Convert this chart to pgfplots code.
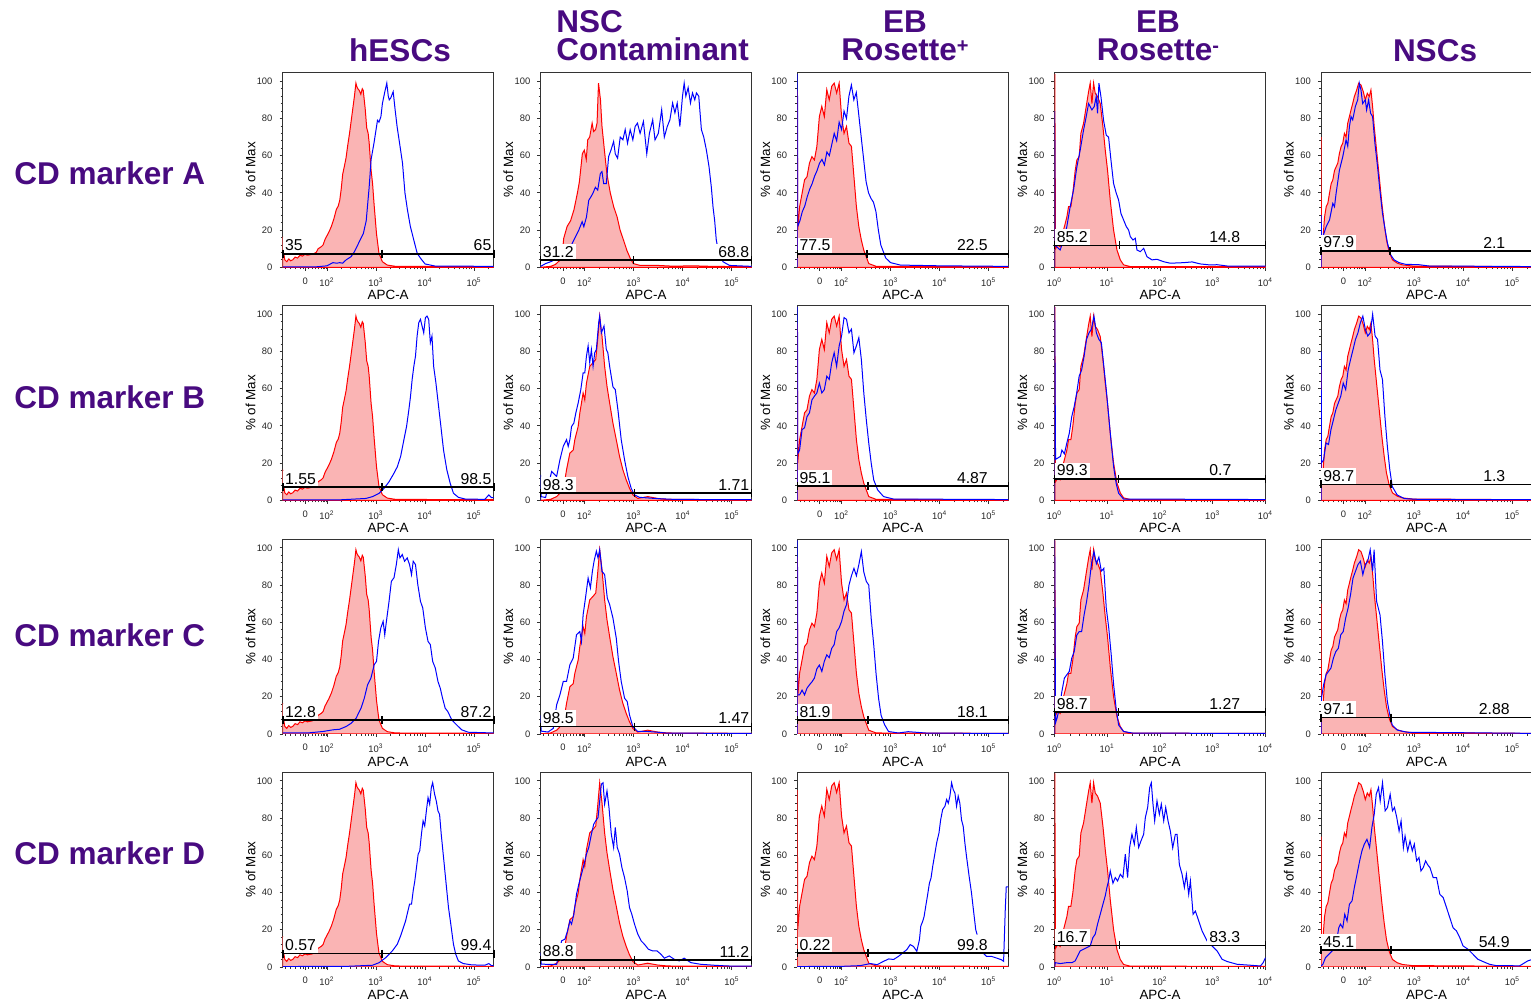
\documentclass[border=0pt]{standalone}
\usepackage{fontspec}
\setmainfont{Liberation Sans}
\usepackage{pgfplots}
\pgfplotsset{compat=1.18}
\usepackage{pgfplotstable}

\definecolor{ttl}{RGB}{72,10,128}
\definecolor{pinkf}{RGB}{250,180,180}

% isotype controls (red, filled), one per column
\pgfplotstableread{
x y
1.097 0
1.097 16.5
1.115 8
1.14 4
1.18 3
1.22 4.5
1.26 3.5
1.30 4
1.35 5.5
1.40 5
1.45 6.5
1.50 6
1.55 7
1.60 6.5
1.70 7
1.78 8
1.82 10
1.88 11
1.92 12
1.96 15
2.00 17
2.04 19
2.09 22
2.14 26
2.19 31
2.23 33
2.26 36
2.29 42
2.32 50
2.36 55
2.39 59
2.42 65
2.46 72
2.50 80
2.53 86
2.56 92
2.59 99
2.61 97
2.63 96
2.66 95
2.69 93
2.72 96
2.74 95
2.78 85
2.81 75
2.84 72
2.86 67
2.90 52
2.93 45
2.96 34
3.01 18
3.06 7.5
3.13 3
3.23 1.2
3.40 0.5
5.40 0.3
}\rA
\pgfplotstableread{
x y
1.097 0
1.30 0.5
1.40 1.5
1.50 4
1.54 7
1.57 15.5
1.64 22
1.71 25
1.78 31
1.85 40
1.89 46
1.95 61
1.99 63
2.03 58
2.06 68.5
2.10 70
2.15 77.5
2.18 73
2.22 74
2.25 77.5
2.28 99
2.32 90
2.35 76
2.40 63
2.45 50.5
2.52 40
2.59 32.5
2.66 27
2.72 20
2.79 14.6
2.86 9
2.93 4.7
2.99 2
3.13 1
3.5 1
3.8 0.6
4.2 0.8
4.6 0.5
5.40 0.3
}\rBa
\pgfplotstableread{
x y
1.097 0
1.30 0.5
1.426 2
1.527 4.7
1.595 11
1.628 16.4
1.696 25.4
1.764 27
1.797 32.6
1.865 39.7
1.899 47
1.966 57.7
2.000 54
2.034 63
2.101 72
2.169 74
2.223 75.7
2.257 84.7
2.304 99
2.351 88.3
2.405 72
2.453 61.3
2.507 52.3
2.574 41.5
2.642 32.6
2.709 23.6
2.777 16.4
2.845 11
2.912 6.5
2.980 2.9
3.081 1
3.284 2
3.486 1
3.689 0.5
5.40 0.3
}\rB
\pgfplotstableread{
x y
1.097 0
1.097 95
1.105 20
1.144 32.6
1.194 39.7
1.245 47
1.295 48.7
1.345 56
1.395 59.5
1.446 57.7
1.496 65
1.547 81
1.596 86.5
1.648 81
1.698 95.5
1.748 90
1.799 97.3
1.849 99
1.899 93.7
1.950 99
2.000 81
2.050 72
2.100 75.7
2.151 66.7
2.201 65
2.252 48.7
2.302 32.6
2.352 21.8
2.403 14.6
2.453 9.2
2.554 2
2.705 0.5
5.40 0.3
}\rC
\pgfplotstableread{
x y
0.005 0
0.005 104
0.02 10
0.06 12
0.108 11
0.171 20
0.234 27
0.266 32.6
0.310 32.6
0.348 40
0.392 52
0.424 57.7
0.468 59.5
0.500 72
0.551 77.4
0.601 86.4
0.646 94.4
0.677 99
0.709 88
0.741 99
0.772 93.5
0.816 91.8
0.867 88
0.918 75.6
0.962 63
1.006 52
1.057 36
1.120 20
1.184 9.3
1.247 4
1.310 1.3
1.437 0.4
4.0 0.3
}\rD
\pgfplotstableread{
x y
1.097 0
1.097 70
1.105 14.7
1.135 14.7
1.169 27
1.203 32.6
1.236 34.4
1.270 39.8
1.304 45
1.338 47
1.372 52
1.405 54
1.439 56
1.473 61.3
1.507 64.9
1.541 66.7
1.574 72
1.608 70
1.642 77.4
1.676 81
1.709 84.6
1.743 88
1.777 91.8
1.824 95.3
1.865 99
1.912 98
1.959 94.4
2.000 90
2.041 93.5
2.081 91.8
2.115 95.3
2.149 86.4
2.182 75.6
2.230 63
2.284 48.7
2.338 34.4
2.385 23.7
2.432 14.7
2.486 8.4
2.554 4
2.655 2.2
2.757 1.3
2.959 0.7
5.40 0.3
}\rE

% stained samples (blue), column A = hESCs ... E = NSCs, rows a-d = marker A-D
\pgfplotstableread{
x y
1.10 0.2
1.80 0.3
2.00 0.8
2.12 2.5
2.20 2.2
2.26 2.5
2.32 2.2
2.39 4
2.49 5.7
2.56 8.4
2.66 13.8
2.74 18
2.80 25
2.86 43
2.90 58
2.96 67
3.03 79
3.06 78
3.10 81
3.13 88
3.18 94.4
3.22 99
3.25 92
3.27 90
3.30 91
3.35 94.4
3.39 84.6
3.43 75.6
3.49 65
3.54 56
3.59 40
3.64 31
3.70 22
3.77 14.7
3.84 7.5
3.91 4.8
4.00 1.8
4.20 0.7
5.40 0.5
}\bAa
\pgfplotstableread{
x y
1.10 0.2
2.30 0.3
2.795 1
2.929 2
3.064 3.8
3.165 6.5
3.266 10
3.367 14.6
3.434 18
3.502 23.6
3.569 32.6
3.623 39.7
3.670 48.7
3.704 56
3.737 65
3.771 72
3.805 77.5
3.838 88.3
3.872 95.5
3.906 97.3
3.939 93.7
3.973 90
4.007 98.2
4.040 99
4.074 97.3
4.108 84.7
4.141 88.3
4.175 72
4.222 63
4.276 50.5
4.323 39.7
4.377 27
4.444 16.4
4.512 9.2
4.579 3.8
4.680 1.6
4.815 0.7
5.219 0.5
5.300 2.9
5.354 1.5
5.40 1.5
}\bAb
\pgfplotstableread{
x y
1.10 0.5
1.60 0.5
1.919 1.3
2.121 2.2
2.256 2.5
2.391 4
2.492 5.7
2.593 8.4
2.694 13.8
2.761 19.2
2.828 26.4
2.896 30
2.963 37.2
3.010 39
3.051 49.7
3.098 57
3.145 60.5
3.178 53.3
3.212 60.5
3.266 71.3
3.313 82
3.367 84
3.414 91
3.455 99
3.488 94.6
3.535 96.4
3.582 92.8
3.636 94.6
3.684 91
3.724 85.6
3.758 92.8
3.805 91
3.852 80.3
3.906 71.3
3.953 67.7
4.007 57
4.061 49.7
4.108 48
4.155 39
4.209 35.4
4.263 28.2
4.310 24.6
4.357 19.2
4.411 13.8
4.465 12
4.545 7.5
4.646 4.8
4.747 2.2
4.882 0.9
5.40 0.5
}\bAc
\pgfplotstableread{
x y
1.10 0.2
2.40 0.3
2.929 0.9
3.064 2.3
3.199 5
3.333 8.6
3.434 12.2
3.502 16.7
3.556 21
3.603 24.7
3.650 30
3.684 33.7
3.724 33.7
3.758 40.9
3.791 46.2
3.825 53.4
3.859 60.6
3.892 62.4
3.926 71.3
3.960 78.5
3.993 75.8
4.027 83.9
4.061 91
4.094 87.5
4.128 96.4
4.155 99
4.195 92.8
4.229 89.2
4.263 83.9
4.296 82
4.330 71.3
4.377 58.8
4.424 46.2
4.478 31.9
4.525 23
4.579 12.2
4.626 6.8
4.680 3.2
4.781 1.8
4.949 1.1
5.219 0.9
5.300 1.8
5.354 0.7
5.40 0.7
}\bAd
\pgfplotstableread{
x y
1.10 0.5
1.20 2
1.304 3
1.439 4.7
1.541 3.8
1.642 7.4
1.743 12.8
1.811 16.4
1.878 20
1.946 24.5
1.980 21.8
2.034 27
2.081 36
2.128 38
2.169 40
2.216 43
2.264 41.5
2.318 50.5
2.351 51.4
2.385 45
2.439 45
2.486 59.5
2.534 63
2.588 67.6
2.622 61
2.669 58.6
2.723 70
2.777 68.5
2.824 74
2.872 66.7
2.926 74
2.980 68.5
3.027 75.7
3.074 77.5
3.128 72
3.196 78.4
3.264 61
3.318 72
3.385 79.3
3.432 68.5
3.500 72
3.568 84.7
3.622 70
3.682 75.7
3.736 79.3
3.791 88.3
3.838 83
3.885 88.3
3.939 75.7
3.993 92
4.027 99
4.061 92
4.108 96.6
4.155 88.3
4.196 93.7
4.243 90
4.277 93.7
4.324 92
4.378 74
4.426 70
4.480 63
4.534 54
4.581 43
4.615 32.5
4.649 25
4.682 14.6
4.716 10
4.818 3
4.953 1
5.40 0.5
}\bBa
\pgfplotstableread{
x y
1.097 0
1.097 13.7
1.11 2
1.20 1.5
1.324 15.5
1.36 14.5
1.426 12.8
1.493 21.8
1.561 29
1.628 32.6
1.662 29
1.696 32.6
1.730 39.7
1.777 41.5
1.818 47
1.865 52.3
1.919 59.5
1.966 68.5
2.000 68.5
2.034 77.5
2.068 83
2.101 74
2.135 81
2.169 72
2.203 79.3
2.236 81
2.284 95.5
2.304 99
2.338 90
2.392 93.7
2.439 81
2.470 79.3
2.507 72
2.574 61
2.622 59.5
2.676 48.6
2.743 32.6
2.811 21.8
2.878 12.8
2.946 6.5
3.014 2.9
3.115 1.6
3.486 0.9
3.824 0.5
5.40 0.3
}\bBb
\pgfplotstableread{
x y
1.097 0
1.097 10
1.11 1.5
1.25 1
1.358 3
1.426 15.6
1.493 21
1.561 28.2
1.628 28.2
1.696 37.2
1.764 40.8
1.831 53.3
1.899 55
1.932 49.7
1.966 64
2.014 73
2.068 83.8
2.115 78.5
2.155 87.4
2.189 92.8
2.236 98.2
2.270 94.6
2.304 99
2.351 87.4
2.405 85.6
2.459 73
2.507 69.5
2.574 62.3
2.642 51.5
2.689 39
2.743 28.2
2.811 19.2
2.865 17.4
2.912 10.2
2.980 3.9
3.081 1.3
3.284 1.3
3.486 0.9
3.689 0.4
5.40 0.3
}\bBc
\pgfplotstableread{
x y
1.097 0
1.097 7.7
1.11 1.5
1.223 1.4
1.426 1.4
1.527 14
1.595 14.9
1.649 19.4
1.696 24.7
1.730 23
1.777 28.3
1.831 39
1.878 44.4
1.932 49.8
1.986 55.2
2.034 60.6
2.081 64.2
2.135 71.3
2.182 76.7
2.223 78.5
2.270 80.3
2.304 89.2
2.338 98.2
2.372 99
2.405 87.5
2.453 94.6
2.493 85.7
2.541 71.3
2.588 64.2
2.622 75
2.662 64.2
2.709 60.6
2.757 53.4
2.811 48
2.865 40.9
2.912 31.9
2.959 28.3
3.014 23
3.081 17.6
3.149 14
3.216 12.2
3.297 9.5
3.385 8.6
3.473 8.6
3.554 6.8
3.622 4.7
3.723 5.9
3.824 4.1
3.926 3.2
4.027 4.7
4.162 2.3
4.365 1.4
4.635 0.9
4.905 0.5
5.40 0.4
}\bBd
\pgfplotstableread{
x y
1.100 0
1.100 104
1.106 22
1.15 25
1.20 30
1.25 33
1.30 38
1.35 42
1.40 45
1.45 49
1.50 52
1.55 56
1.60 58
1.65 55
1.70 62
1.75 60
1.80 66
1.85 72
1.90 68
1.95 78
2.00 74
2.05 84
2.10 80
2.15 92
2.20 98
2.25 90
2.30 94
2.35 82
2.40 70
2.45 58
2.50 46
2.55 40
2.60 37
2.65 35
2.70 30
2.75 20
2.80 12
2.90 5
3.00 2.5
3.20 1.2
4.00 0.8
5.40 0.5
}\bCa
\pgfplotstableread{
x y
1.100 0
1.100 104
1.105 25
1.144 27
1.194 38
1.245 39
1.295 45
1.345 47
1.396 54
1.446 56
1.496 57.7
1.547 63
1.597 57.7
1.648 59.5
1.698 66.7
1.748 65
1.799 74
1.849 79.3
1.899 72
1.950 83
2.000 88.3
2.050 98.2
2.100 97.3
2.151 90
2.201 92
2.252 79.3
2.302 83
2.352 87.4
2.403 75.7
2.453 57.7
2.504 43.3
2.554 30.8
2.604 20
2.655 11
2.735 5.6
2.856 2
3.057 0.7
5.40 0.4
}\bCb
\pgfplotstableread{
x y
1.100 0
1.100 104
1.105 21
1.144 21
1.194 23.5
1.245 21
1.295 24.6
1.345 26.4
1.396 28
1.446 30
1.496 35
1.547 37
1.597 33.6
1.648 39
1.698 42.5
1.748 41
1.799 46
1.849 48
1.899 55
1.950 57
2.000 60.5
2.050 66
2.100 69.5
2.151 80
2.201 85
2.252 89
2.302 85
2.352 91
2.403 98
2.453 87
2.504 82
2.554 80
2.604 62
2.655 48
2.705 31.8
2.755 19
2.806 10
2.876 5
2.957 1.3
3.158 0.5
3.360 1.2
3.560 0.8
3.760 0.4
5.40 0.3
}\bCc
\pgfplotstableread{
x y
1.10 0.2
2.00 0.3
2.385 0.7
2.588 1.8
2.723 1.2
2.858 3
2.959 4.3
3.061 4
3.162 5.7
3.264 7.9
3.331 9.3
3.399 12
3.466 11
3.534 8.4
3.588 14.7
3.615 21.9
3.655 24.6
3.682 27
3.716 32.6
3.750 38
3.791 45
3.824 47.8
3.858 54
3.905 61.3
3.939 66.7
3.986 72
4.020 79
4.061 84.6
4.108 86.4
4.142 90
4.176 88
4.209 91.8
4.243 99
4.277 95.3
4.311 93.5
4.345 86.4
4.378 91.8
4.412 88
4.446 79
4.480 75.6
4.514 66.7
4.547 59.5
4.601 48.7
4.649 39.8
4.696 29
4.736 20
4.764 17.4
4.790 nan
4.818 11
4.885 7.5
4.953 5.7
5.054 5.7
5.155 4.8
5.257 3.9
5.304 3
5.338 30.8
5.358 43
5.40 43
}\bCd
\pgfplotstableread{
x y
0.003 0
0.003 84
0.01 12
0.044 11
0.108 9.3
0.171 14.7
0.234 21.9
0.297 32.6
0.361 41.6
0.424 54
0.487 63
0.551 73.8
0.601 81
0.646 88
0.709 84.6
0.753 86.4
0.791 91.8
0.816 82.8
0.842 99
0.880 91.8
0.930 79
0.981 71
1.025 70
1.070 57.7
1.120 45
1.171 39.8
1.215 36.2
1.259 29
1.310 25.4
1.361 21.9
1.405 20
1.437 16.5
1.487 14.7
1.532 15.6
1.563 9.3
1.627 8.4
1.690 10.2
1.753 5.7
1.848 4
1.943 4.3
2.070 3
2.196 2.2
2.449 2.5
2.608 2.9
2.766 1.8
2.956 1.25
3.082 1.4
3.272 0.7
4.0 0.6
}\bDa
\pgfplotstableread{
x y
0.003 0
0.003 104
0.02 22
0.112 23.6
0.140 27
0.187 25
0.234 30.8
0.280 36
0.327 45
0.374 50.5
0.421 57.7
0.467 66.7
0.514 70
0.561 77.5
0.607 86.5
0.654 90
0.701 92
0.748 99
0.794 90
0.841 86.5
0.888 84.7
0.935 72
0.981 59.5
1.028 45
1.075 30.8
1.121 18
1.168 9.2
1.215 3.8
1.308 0.7
4.0 0.4
}\bDb
\pgfplotstableread{
x y
0.003 0
0.003 104
0.02 6
0.047 8.4
0.093 13.8
0.140 22.8
0.187 30
0.234 31.8
0.280 33.6
0.327 40.7
0.374 44.3
0.421 53
0.467 55
0.514 55
0.561 64
0.607 71
0.654 80
0.701 91.5
0.748 98
0.794 91.5
0.841 95
0.888 87.5
0.935 89
0.981 67.7
1.028 57
1.075 42.5
1.121 26.4
1.168 13.8
1.215 4.8
1.308 1.3
1.495 0.4
4.0 0.3
}\bDc
\pgfplotstableread{
x y
0.003 0
0.013 2.3
0.108 1.8
0.234 2.3
0.329 2.3
0.392 3.2
0.424 5
0.487 8.6
0.551 9.5
0.614 10.4
0.677 11.3
0.728 15.8
0.772 17.6
0.816 23
0.867 28.3
0.918 33.7
0.962 38.2
0.994 42.7
1.025 46.2
1.057 51.6
1.108 45
1.152 48
1.196 46.2
1.247 49.8
1.297 48
1.342 60.6
1.386 48
1.424 64.2
1.468 71.3
1.513 66
1.551 75
1.595 64.2
1.639 67.7
1.690 71.3
1.722 80.3
1.766 85.7
1.804 96.4
1.835 99
1.867 87.5
1.899 78.5
1.943 89.2
1.987 82
2.025 87.5
2.070 78.5
2.108 85.7
2.152 78.5
2.196 73
2.241 64
2.291 71.3
2.323 71.3
2.367 55
2.418 49.8
2.462 42.7
2.500 49.8
2.544 39
2.576 46.2
2.627 28.3
2.671 30
2.734 24.7
2.797 19.4
2.892 14
2.987 11.3
3.082 8.6
3.177 4.1
3.272 2.9
3.462 1.4
3.715 0.9
3.905 0.5
3.956 2.3
4.000 5
}\bDd
\pgfplotstableread{
x y
1.100 0
1.100 28
1.105 16.5
1.135 16.5
1.203 21.9
1.270 25.4
1.338 34.4
1.372 32.6
1.405 39.8
1.473 52.3
1.541 59.5
1.608 68.5
1.642 65
1.676 75.6
1.709 81
1.743 79.2
1.797 86.4
1.845 90
1.878 99
1.912 95.3
1.946 88
2.000 90
2.027 84.6
2.068 90
2.108 82.8
2.149 81
2.196 66.7
2.250 54
2.297 41.6
2.351 29
2.405 20
2.453 12.9
2.520 6.6
2.588 4
2.689 2.5
2.824 1.6
3.095 1.4
3.297 0.7
5.40 0.4
}\bEa
\pgfplotstableread{
x y
1.100 0
1.100 80
1.105 20
1.15 21.8
1.20 30.8
1.25 30
1.30 38
1.35 43.3
1.40 48.7
1.45 52.3
1.50 56
1.55 63
1.60 59.5
1.65 70
1.70 75.7
1.75 81
1.80 86.5
1.85 90
1.90 95.5
1.95 99
2.00 92
2.05 88.3
2.10 90
2.15 100
2.20 88.3
2.25 86.5
2.30 70
2.35 65
2.40 45
2.45 29
2.50 16.4
2.55 7.4
2.65 2.9
2.80 0.9
3.10 0.5
5.40 0.3
}\bEb
\pgfplotstableread{
x y
1.100 0
1.105 19
1.15 26.4
1.20 31.8
1.25 33.6
1.30 35.4
1.35 40.8
1.40 44.3
1.45 46
1.50 53.3
1.55 55
1.60 62.3
1.65 67.7
1.70 75
1.75 83.8
1.80 87.4
1.85 91
1.90 92.8
1.95 85.6
2.00 91
2.05 92.8
2.10 99
2.15 87.4
2.18 99
2.23 71.3
2.30 64
2.35 49.7
2.40 31.8
2.45 17.4
2.50 10.2
2.55 4.8
2.65 2.1
2.85 0.9
5.40 0.3
}\bEc
\pgfplotstableread{
x y
1.100 0.5
1.135 1.4
1.189 5
1.257 6.8
1.324 8.6
1.392 10.4
1.459 21
1.493 23
1.541 21
1.581 28.3
1.628 24.7
1.676 33.7
1.730 35.5
1.777 42.7
1.831 49.8
1.885 57
1.932 62.4
1.980 66
2.034 68.6
2.088 64.2
2.135 75
2.182 82
2.223 92.8
2.270 96.4
2.304 89.2
2.351 99
2.405 83.9
2.453 85.7
2.507 92.8
2.554 83.9
2.595 85.7
2.642 80.3
2.689 73
2.730 78.5
2.777 64.2
2.811 70.4
2.865 62.4
2.912 67.7
2.959 62.4
3.000 66
3.047 57
3.095 58.8
3.135 51.6
3.182 53.4
3.230 57
3.270 55
3.318 53.4
3.385 48
3.453 48
3.520 39
3.588 37.3
3.655 32
3.723 26.5
3.791 21
3.858 19.4
3.926 15.8
3.993 11.3
4.095 9.5
4.196 6.8
4.297 4.1
4.399 2.9
4.534 1.4
4.669 0.7
4.939 0.7
5.142 0.5
5.311 3.2
5.40 4
}\bEd

\pgfplotsset{
  facs/.style={
    scale only axis, width=105.5pt, height=97.3pt,
    anchor=north west,
    ymin=0, ymax=104.6,
    ytick={0,20,40,60,80,100}, minor y tick num=4,
    tick align=outside, xtick pos=bottom, ytick pos=left,
    major tick length=1.6pt, minor tick length=1pt,
    axis line style={black!80, line width=0.5pt},
    tick style={black!80, line width=0.4pt},
    tick label style={font=\fontsize{4.7}{5}\selectfont, text=black!85,
      /pgf/number format/assume math mode=true},
    label style={font=\fontsize{6.7}{7}\selectfont},
    xlabel={APC-A}, ylabel={\% of Max},
    xlabel style={at={(axis description cs:0.5,-0.142)}, anchor=center},
    ylabel style={at={(axis description cs:-0.152,0.5)}, anchor=center},
  },
  biex/.style={
    xmin=1.097, xmax=5.40,
    xtick={1.556,2,3,4,5},
    xticklabels={0,10\textsuperscript{2},10\textsuperscript{3},10\textsuperscript{4},10\textsuperscript{5}},
    minor xtick={1.15,1.25,1.35,1.45,1.51,1.62,1.70,1.77,1.83,1.88,1.92,1.95,1.98,
      2.301,2.477,2.602,2.699,2.778,2.845,2.903,2.954,
      3.301,3.477,3.602,3.699,3.778,3.845,3.903,3.954,
      4.301,4.477,4.602,4.699,4.778,4.845,4.903,4.954,5.301},
  },
  logx/.style={
    xmin=0, xmax=4,
    xtick={0,1,2,3,4},
    xticklabels={10\textsuperscript{0},10\textsuperscript{1},10\textsuperscript{2},10\textsuperscript{3},10\textsuperscript{4}},
    minor xtick={0.301,0.477,0.602,0.699,0.778,0.845,0.903,0.954,
      1.301,1.477,1.602,1.699,1.778,1.845,1.903,1.954,
      2.301,2.477,2.602,2.699,2.778,2.845,2.903,2.954,
      3.301,3.477,3.602,3.699,3.778,3.845,3.903,3.954},
  },
  rfill/.style={draw=red, fill=pinkf, line width=0.5pt},
  bline/.style={draw=blue, line width=0.5pt},
}
\tikzset{
  glab/.style={fill=white, inner xsep=1pt, inner ysep=1.2pt, font=\fontsize{7.9}{8}\selectfont},
  ttlst/.style={font=\fontsize{15.75}{14.2}\selectfont\bfseries, text=ttl, inner sep=0pt},
}
% small raised sign after "Rosette", kept below cap height
\newcommand\sgn[1]{\raisebox{4.2pt}{\fontsize{10}{10}\selectfont #1}}

% gate: #1 level, #2 xmin, #3 split, #4 xmax, #5 left %, #6 right %, #7 right label x, #8 its anchor
\newcommand\gate[8]{%
  \node[glab, anchor=south west] at (axis cs:#2,#1) {#5};
  \node[glab, anchor=#8] at (axis cs:#7,#1) {#6};
  \addplot[black, line width=0.8pt, mark=|, mark size=2pt]
    coordinates {(#2,#1) (#3,#1) (#4,#1)};
}

\begin{document}
\begin{tikzpicture}
\useasboundingbox (0,0) rectangle (765.5pt,-501pt);

% column and row titles
\node[ttlst, anchor=base] at (400*0.5pt,-61.7*0.5pt) {hESCs};
\node[ttlst, align=left, anchor=south west] at (556*0.5pt,-61.7*0.5pt) {NSC\\Contaminant};
\node[ttlst, align=center, anchor=south] at (905*0.5pt,-61.7*0.5pt) {EB\\Rosette\sgn{+}};
\node[ttlst, align=center, anchor=south] at (1158*0.5pt,-61.7*0.5pt) {EB\\Rosette\sgn{-}};
\node[ttlst, anchor=base] at (1435*0.5pt,-61.7*0.5pt) {NSCs};
\node[ttlst, anchor=base west] at (14*0.5pt,-184.5*0.5pt) {CD marker A};
\node[ttlst, anchor=base west] at (14*0.5pt,-408.5*0.5pt) {CD marker B};
\node[ttlst, anchor=base west] at (14*0.5pt,-646.5*0.5pt) {CD marker C};
\node[ttlst, anchor=base west] at (14*0.5pt,-864.5*0.5pt) {CD marker D};

% ---- column 1: hESCs
\begin{axis}[facs, biex, at={(282.7*0.5pt,-72.7*0.5pt)}]
\addplot[rfill] table {\rA} \closedcycle;
\addplot[bline] table {\bAa};
\gate{7.3}{1.097}{3.12}{5.40}{35}{65}{5.40}{south east}
\end{axis}
\begin{axis}[facs, biex, at={(282.7*0.5pt,-305.7*0.5pt)}]
\addplot[rfill] table {\rA} \closedcycle;
\addplot[bline] table {\bAb};
\gate{7.0}{1.097}{3.118}{5.40}{1.55}{98.5}{5.40}{south east}
\end{axis}
\begin{axis}[facs, biex, at={(282.7*0.5pt,-539.3*0.5pt)}]
\addplot[rfill] table {\rA} \closedcycle;
\addplot[bline] table {\bAc};
\gate{7.4}{1.097}{3.118}{5.40}{12.8}{87.2}{5.40}{south east}
\end{axis}
\begin{axis}[facs, biex, at={(282.7*0.5pt,-772.3*0.5pt)}]
\addplot[rfill] table {\rA} \closedcycle;
\addplot[bline] table {\bAd};
\gate{7.2}{1.097}{3.118}{5.40}{0.57}{99.4}{5.40}{south east}
\end{axis}

% ---- column 2: NSC contaminant
\begin{axis}[facs, biex, at={(540.5*0.5pt,-72.7*0.5pt)}]
\addplot[rfill] table {\rBa} \closedcycle;
\addplot[bline] table {\bBa};
\gate{3.8}{1.097}{2.993}{5.40}{31.2}{68.8}{5.40}{south east}
\end{axis}
\begin{axis}[facs, biex, at={(540.5*0.5pt,-305.7*0.5pt)}]
\addplot[rfill] table {\rB} \closedcycle;
\addplot[bline] table {\bBb};
\gate{3.8}{1.097}{3.014}{5.40}{98.3}{1.71}{5.40}{south east}
\end{axis}
\begin{axis}[facs, biex, at={(540.5*0.5pt,-539.3*0.5pt)}]
\addplot[rfill] table {\rB} \closedcycle;
\addplot[bline] table {\bBc};
\gate{3.9}{1.097}{3.014}{5.40}{98.5}{1.47}{5.40}{south east}
\end{axis}
\begin{axis}[facs, biex, at={(540.5*0.5pt,-772.3*0.5pt)}]
\addplot[rfill] table {\rB} \closedcycle;
\addplot[bline] table {\bBd};
\gate{3.8}{1.097}{3.014}{5.40}{88.8}{11.2}{5.40}{south east}
\end{axis}

% ---- column 3: EB rosette+
\begin{axis}[facs, biex, at={(797.3*0.5pt,-72.7*0.5pt)}]
\addplot[rfill] table {\rC} \closedcycle;
\addplot[bline] table {\bCa};
\gate{7.2}{1.097}{2.52}{5.40}{77.5}{22.5}{5.03}{south east}
\end{axis}
\begin{axis}[facs, biex, at={(797.3*0.5pt,-305.7*0.5pt)}]
\addplot[rfill] table {\rC} \closedcycle;
\addplot[bline] table {\bCb};
\gate{7.7}{1.097}{2.534}{5.40}{95.1}{4.87}{5.03}{south east}
\end{axis}
\begin{axis}[facs, biex, at={(797.3*0.5pt,-539.3*0.5pt)}]
\addplot[rfill] table {\rC} \closedcycle;
\addplot[bline] table {\bCc};
\gate{7.5}{1.097}{2.534}{5.40}{81.9}{18.1}{5.03}{south east}
\end{axis}
\begin{axis}[facs, biex, at={(797.3*0.5pt,-772.3*0.5pt)}]
\addplot[rfill] table {\rC} \closedcycle;
\addplot[bline, unbounded coords=jump] table {\bCd};
\gate{7.5}{1.097}{2.534}{5.40}{0.22}{99.8}{5.03}{south east}
\end{axis}

% ---- column 4: EB rosette-
\begin{axis}[facs, logx, at={(1054.5*0.5pt,-72.7*0.5pt)}]
\addplot[rfill] table {\rD} \closedcycle;
\addplot[bline] table {\bDa};
\gate{11.8}{0}{1.234}{4}{85.2}{14.8}{2.89}{south west}
\end{axis}
\begin{axis}[facs, logx, at={(1054.5*0.5pt,-305.7*0.5pt)}]
\addplot[rfill] table {\rD} \closedcycle;
\addplot[bline] table {\bDb};
\gate{11.5}{0}{1.215}{4}{99.3}{0.7}{2.89}{south west}
\end{axis}
\begin{axis}[facs, logx, at={(1054.5*0.5pt,-539.3*0.5pt)}]
\addplot[rfill] table {\rD} \closedcycle;
\addplot[bline] table {\bDc};
\gate{11.7}{0}{1.215}{4}{98.7}{1.27}{2.89}{south west}
\end{axis}
\begin{axis}[facs, logx, at={(1054.5*0.5pt,-772.3*0.5pt)}]
\addplot[rfill] table {\rD} \closedcycle;
\addplot[bline] table {\bDd};
\gate{11.6}{0}{1.234}{4}{16.7}{83.3}{2.89}{south west}
\end{axis}

% ---- column 5: NSCs
\begin{axis}[facs, biex, at={(1321*0.5pt,-72.7*0.5pt)}]
\addplot[rfill] table {\rE} \closedcycle;
\addplot[bline] table {\bEa};
\gate{8.8}{1.097}{2.507}{5.40}{97.9}{2.1}{4.63}{south}
\end{axis}
\begin{axis}[facs, biex, at={(1321*0.5pt,-305.7*0.5pt)}]
\addplot[rfill] table {\rE} \closedcycle;
\addplot[bline] table {\bEb};
\gate{8.6}{1.097}{2.53}{5.40}{98.7}{1.3}{4.63}{south}
\end{axis}
\begin{axis}[facs, biex, at={(1321*0.5pt,-539.3*0.5pt)}]
\addplot[rfill] table {\rE} \closedcycle;
\addplot[bline] table {\bEc};
\gate{8.8}{1.097}{2.53}{5.40}{97.1}{2.88}{4.63}{south}
\end{axis}
\begin{axis}[facs, biex, at={(1321*0.5pt,-772.3*0.5pt)}]
\addplot[rfill] table {\rE} \closedcycle;
\addplot[bline] table {\bEd};
\gate{9.0}{1.097}{2.527}{5.40}{45.1}{54.9}{4.63}{south}
\end{axis}
\end{tikzpicture}
\end{document}
